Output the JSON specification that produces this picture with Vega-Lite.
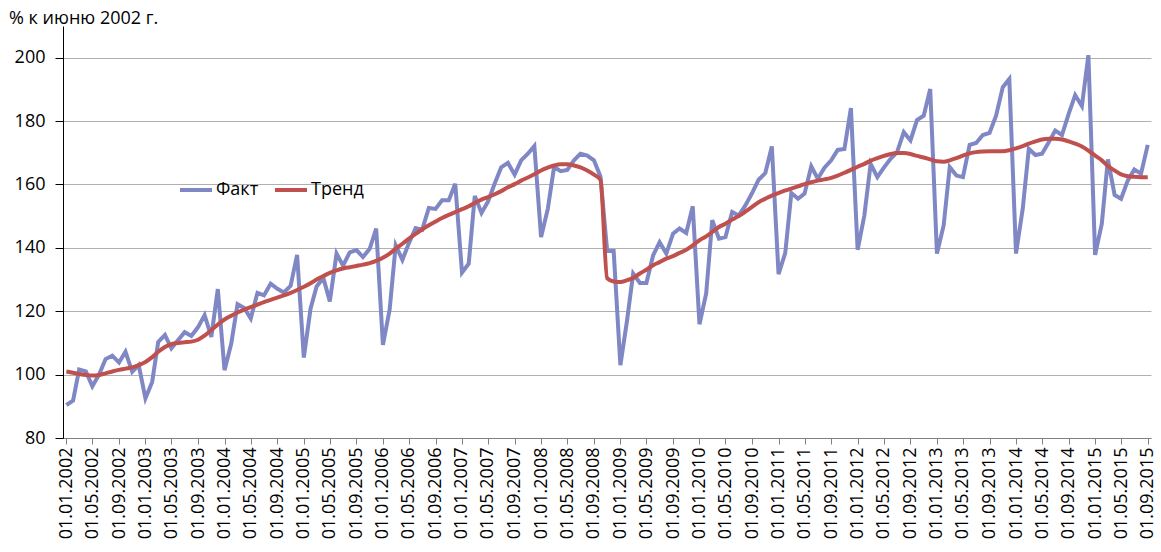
{
  "$schema": "https://vega.github.io/schema/vega-lite/v6.json",
  "width": 1088,
  "height": 412,
  "autosize": {"type": "none"},
  "padding": {"left": 63, "top": 26, "right": 10, "bottom": 114},
  "background": "white",
  "config": {"font": "Open Sans", "view": {"stroke": null}},
  "title": {"text": "% к июню 2002 г.", "anchor": "start", "frame": "group", "dx": -54, "offset": -16, "baseline": "alphabetic", "fontSize": 18, "fontWeight": "normal", "font": "Open Sans", "color": "black"},
  "data": {"values": [
    {"d":"2002-01-01","Факт":90.4,"Тренд":101.0},{"d":"2002-02-01","Факт":91.8,"Тренд":100.6},{"d":"2002-03-01","Факт":101.6,"Тренд":100.2},{"d":"2002-04-01","Факт":101.0,"Тренд":99.9},{"d":"2002-05-01","Факт":96.3,"Тренд":99.7},{"d":"2002-06-01","Факт":100.0,"Тренд":99.9},{"d":"2002-07-01","Факт":104.9,"Тренд":100.4},{"d":"2002-08-01","Факт":106.0,"Тренд":101.0},{"d":"2002-09-01","Факт":103.8,"Тренд":101.5},{"d":"2002-10-01","Факт":107.2,"Тренд":101.9},{"d":"2002-11-01","Факт":100.9,"Тренд":102.3},{"d":"2002-12-01","Факт":103.0,"Тренд":103.0},
    {"d":"2003-01-01","Факт":92.5,"Тренд":104.0},{"d":"2003-02-01","Факт":97.7,"Тренд":105.5},{"d":"2003-03-01","Факт":110.3,"Тренд":107.2},{"d":"2003-04-01","Факт":112.5,"Тренд":108.7},{"d":"2003-05-01","Факт":108.3,"Тренд":109.6},{"d":"2003-06-01","Факт":110.9,"Тренд":110.0},{"d":"2003-07-01","Факт":113.4,"Тренд":110.2},{"d":"2003-08-01","Факт":112.2,"Тренд":110.4},{"d":"2003-09-01","Факт":115.0,"Тренд":111.0},{"d":"2003-10-01","Факт":118.8,"Тренд":112.3},{"d":"2003-11-01","Факт":111.9,"Тренд":114.0},{"d":"2003-12-01","Факт":127.0,"Тренд":115.8},
    {"d":"2004-01-01","Факт":101.4,"Тренд":117.4},{"d":"2004-02-01","Факт":109.8,"Тренд":118.6},{"d":"2004-03-01","Факт":122.2,"Тренд":119.6},{"d":"2004-04-01","Факт":121.0,"Тренд":120.5},{"d":"2004-05-01","Факт":117.7,"Тренд":121.3},{"d":"2004-06-01","Факт":125.8,"Тренд":122.1},{"d":"2004-07-01","Факт":125.0,"Тренд":122.9},{"d":"2004-08-01","Факт":128.7,"Тренд":123.6},{"d":"2004-09-01","Факт":127.1,"Тренд":124.3},{"d":"2004-10-01","Факт":125.9,"Тренд":125.0},{"d":"2004-11-01","Факт":128.0,"Тренд":125.8},{"d":"2004-12-01","Факт":137.8,"Тренд":126.7},
    {"d":"2005-01-01","Факт":105.4,"Тренд":127.7},{"d":"2005-02-01","Факт":120.8,"Тренд":128.8},{"d":"2005-03-01","Факт":127.8,"Тренд":130.0},{"d":"2005-04-01","Факт":130.5,"Тренд":131.1},{"d":"2005-05-01","Факт":123.1,"Тренд":132.1},{"d":"2005-06-01","Факт":138.2,"Тренд":132.9},{"d":"2005-07-01","Факт":134.4,"Тренд":133.5},{"d":"2005-08-01","Факт":138.6,"Тренд":133.9},{"d":"2005-09-01","Факт":139.3,"Тренд":134.3},{"d":"2005-10-01","Факт":137.1,"Тренд":134.7},{"d":"2005-11-01","Факт":139.7,"Тренд":135.2},{"d":"2005-12-01","Факт":146.1,"Тренд":135.9},
    {"d":"2006-01-01","Факт":109.4,"Тренд":136.9},{"d":"2006-02-01","Факт":120.5,"Тренд":138.2},{"d":"2006-03-01","Факт":140.8,"Тренд":139.7},{"d":"2006-04-01","Факт":136.2,"Тренд":141.3},{"d":"2006-05-01","Факт":141.5,"Тренд":142.9},{"d":"2006-06-01","Факт":146.2,"Тренд":144.4},{"d":"2006-07-01","Факт":145.7,"Тренд":145.8},{"d":"2006-08-01","Факт":152.6,"Тренд":147.1},{"d":"2006-09-01","Факт":152.3,"Тренд":148.3},{"d":"2006-10-01","Факт":155.0,"Тренд":149.4},{"d":"2006-11-01","Факт":155.0,"Тренд":150.4},{"d":"2006-12-01","Факт":160.2,"Тренд":151.3},
    {"d":"2007-01-01","Факт":132.2,"Тренд":152.2},{"d":"2007-02-01","Факт":135.0,"Тренд":153.1},{"d":"2007-03-01","Факт":156.4,"Тренд":154.2},{"d":"2007-04-01","Факт":151.0,"Тренд":155.2},{"d":"2007-05-01","Факт":154.6,"Тренд":156.0},{"d":"2007-06-01","Факт":160.3,"Тренд":156.9},{"d":"2007-07-01","Факт":165.4,"Тренд":157.9},{"d":"2007-08-01","Факт":166.8,"Тренд":159.1},{"d":"2007-09-01","Факт":163.1,"Тренд":160.1},{"d":"2007-10-01","Факт":167.6,"Тренд":161.2},{"d":"2007-11-01","Факт":169.7,"Тренд":162.2},{"d":"2007-12-01","Факт":172.1,"Тренд":163.2},
    {"d":"2008-01-01","Факт":143.4,"Тренд":164.4},{"d":"2008-02-01","Факт":152.3,"Тренд":165.3},{"d":"2008-03-01","Факт":165.5,"Тренд":166.0},{"d":"2008-04-01","Факт":164.2,"Тренд":166.4},{"d":"2008-05-01","Факт":164.6,"Тренд":166.4},{"d":"2008-06-01","Факт":167.6,"Тренд":166.0},{"d":"2008-07-01","Факт":169.7,"Тренд":165.4},{"d":"2008-08-01","Факт":169.1,"Тренд":164.4},{"d":"2008-09-01","Факт":167.6,"Тренд":163.1},{"d":"2008-10-01","Факт":162.5,"Тренд":161.5},{"d":"2008-11-01","Факт":139.0,"Тренд":130.4},{"d":"2008-12-01","Факт":139.0,"Тренд":129.4},
    {"d":"2009-01-01","Факт":103.0,"Тренд":129.2},{"d":"2009-02-01","Факт":117.2,"Тренд":129.8},{"d":"2009-03-01","Факт":131.9,"Тренд":130.5},{"d":"2009-04-01","Факт":128.9,"Тренд":131.9},{"d":"2009-05-01","Факт":128.9,"Тренд":133.1},{"d":"2009-06-01","Факт":137.6,"Тренд":134.5},{"d":"2009-07-01","Факт":141.8,"Тренд":135.5},{"d":"2009-08-01","Факт":138.2,"Тренд":136.6},{"d":"2009-09-01","Факт":144.5,"Тренд":137.4},{"d":"2009-10-01","Факт":146.1,"Тренд":138.4},{"d":"2009-11-01","Факт":144.7,"Тренд":139.4},{"d":"2009-12-01","Факт":153.1,"Тренд":140.8},
    {"d":"2010-01-01","Факт":115.9,"Тренд":142.4},{"d":"2010-02-01","Факт":125.6,"Тренд":143.6},{"d":"2010-03-01","Факт":148.7,"Тренд":145.0},{"d":"2010-04-01","Факт":142.9,"Тренд":146.6},{"d":"2010-05-01","Факт":143.4,"Тренд":147.6},{"d":"2010-06-01","Факт":151.3,"Тренд":148.9},{"d":"2010-07-01","Факт":150.2,"Тренд":150.0},{"d":"2010-08-01","Факт":153.4,"Тренд":151.4},{"d":"2010-09-01","Факт":157.3,"Тренд":152.9},{"d":"2010-10-01","Факт":161.5,"Тренд":154.4},{"d":"2010-11-01","Факт":163.6,"Тренд":155.5},{"d":"2010-12-01","Факт":172.0,"Тренд":156.5},
    {"d":"2011-01-01","Факт":131.7,"Тренд":157.3},{"d":"2011-02-01","Факт":138.4,"Тренд":158.1},{"d":"2011-03-01","Факт":157.3,"Тренд":158.7},{"d":"2011-04-01","Факт":155.5,"Тренд":159.4},{"d":"2011-05-01","Факт":157.1,"Тренд":160.1},{"d":"2011-06-01","Факт":165.7,"Тренд":160.7},{"d":"2011-07-01","Факт":161.8,"Тренд":161.2},{"d":"2011-08-01","Факт":165.3,"Тренд":161.6},{"d":"2011-09-01","Факт":167.6,"Тренд":162.1},{"d":"2011-10-01","Факт":170.9,"Тренд":162.8},{"d":"2011-11-01","Факт":171.2,"Тренд":163.7},{"d":"2011-12-01","Факт":184.1,"Тренд":164.6},
    {"d":"2012-01-01","Факт":139.4,"Тренд":165.6},{"d":"2012-02-01","Факт":150.2,"Тренд":166.5},{"d":"2012-03-01","Факт":166.5,"Тренд":167.5},{"d":"2012-04-01","Факт":162.3,"Тренд":168.3},{"d":"2012-05-01","Факт":165.3,"Тренд":169.0},{"d":"2012-06-01","Факт":168.1,"Тренд":169.6},{"d":"2012-07-01","Факт":170.2,"Тренд":169.9},{"d":"2012-08-01","Факт":176.5,"Тренд":169.9},{"d":"2012-09-01","Факт":173.9,"Тренд":169.6},{"d":"2012-10-01","Факт":180.3,"Тренд":169.0},{"d":"2012-11-01","Факт":181.7,"Тренд":168.5},{"d":"2012-12-01","Факт":190.1,"Тренд":167.9},
    {"d":"2013-01-01","Факт":138.2,"Тренд":167.3},{"d":"2013-02-01","Факт":147.1,"Тренд":167.2},{"d":"2013-03-01","Факт":165.5,"Тренд":167.6},{"d":"2013-04-01","Факт":162.8,"Тренд":168.3},{"d":"2013-05-01","Факт":162.3,"Тренд":169.1},{"d":"2013-06-01","Факт":172.5,"Тренд":169.8},{"d":"2013-07-01","Факт":173.1,"Тренд":170.2},{"d":"2013-08-01","Факт":175.6,"Тренд":170.4},{"d":"2013-09-01","Факт":176.3,"Тренд":170.5},{"d":"2013-10-01","Факт":181.7,"Тренд":170.5},{"d":"2013-11-01","Факт":190.7,"Тренд":170.5},{"d":"2013-12-01","Факт":193.3,"Тренд":170.8},
    {"d":"2014-01-01","Факт":138.2,"Тренд":171.4},{"d":"2014-02-01","Факт":152.3,"Тренд":172.1},{"d":"2014-03-01","Факт":171.2,"Тренд":172.9},{"d":"2014-04-01","Факт":169.3,"Тренд":173.6},{"d":"2014-05-01","Факт":169.7,"Тренд":174.2},{"d":"2014-06-01","Факт":173.3,"Тренд":174.4},{"d":"2014-07-01","Факт":177.0,"Тренд":174.4},{"d":"2014-08-01","Факт":175.6,"Тренд":174.2},{"d":"2014-09-01","Факт":182.3,"Тренд":173.6},{"d":"2014-10-01","Факт":188.2,"Тренд":172.9},{"d":"2014-11-01","Факт":184.7,"Тренд":172.0},{"d":"2014-12-01","Факт":200.8,"Тренд":170.7},
    {"d":"2015-01-01","Факт":137.8,"Тренд":169.1},{"d":"2015-02-01","Факт":147.6,"Тренд":167.6},{"d":"2015-03-01","Факт":167.9,"Тренд":165.8},{"d":"2015-04-01","Факт":156.7,"Тренд":164.4},{"d":"2015-05-01","Факт":155.5,"Тренд":163.2},{"d":"2015-06-01","Факт":161.3,"Тренд":162.6},{"d":"2015-07-01","Факт":164.7,"Тренд":162.4},{"d":"2015-08-01","Факт":163.4,"Тренд":162.3},{"d":"2015-09-01","Факт":172.5,"Тренд":162.3}
  ]},
  "transform": [{"fold": ["Факт", "Тренд"], "as": ["series", "value"]}],
  "encoding": {
    "x": {
      "field": "d", "type": "temporal",
      "scale": {"type": "utc", "domain": [{"year": 2001, "month": 12, "date": 16, "hours": 12, "utc": true}, {"year": 2015, "month": 9, "date": 16, "utc": true}]},
      "axis": {"title": null, "format": "%d.%m.%Y", "labelAngle": -90, "tickCount": {"interval": "month", "step": 4}, "labelFontSize": 18, "labelColor": "black", "tickSize": 6, "tickColor": "#808080", "domainColor": "#808080", "grid": false, "labelPadding": 3, "labelOverlap": false, "labelFlush": false}
    },
    "y": {
      "field": "value", "type": "quantitative",
      "scale": {"domain": [80, 210], "nice": false, "zero": false},
      "axis": {"title": null, "values": [80, 100, 120, 140, 160, 180, 200], "labelFontSize": 18, "labelColor": "black", "tickSize": 8, "tickColor": "#000000", "domainColor": "#000000", "gridColor": "#b0b0b0", "labelPadding": 10, "grid": true}
    },
    "color": {
      "field": "series", "type": "nominal",
      "scale": {"domain": ["Факт", "Тренд"], "range": ["#7F87C4", "#C0504D"]},
      "legend": {"title": null, "orient": "none", "legendX": 115, "legendY": 146, "direction": "horizontal", "symbolType": "stroke", "symbolSize": 1024, "symbolStrokeWidth": 4, "labelFontSize": 18, "labelColor": "black", "labelOffset": 2, "columnPadding": 8, "padding": 0}
    }
  },
  "layer": [
    {"transform": [{"filter": "datum.series === 'Факт'"}], "mark": {"type": "line", "strokeWidth": 4}},
    {"transform": [{"filter": "datum.series === 'Тренд'"}], "mark": {"type": "line", "strokeWidth": 4, "interpolate": "monotone"}}
  ]
}
